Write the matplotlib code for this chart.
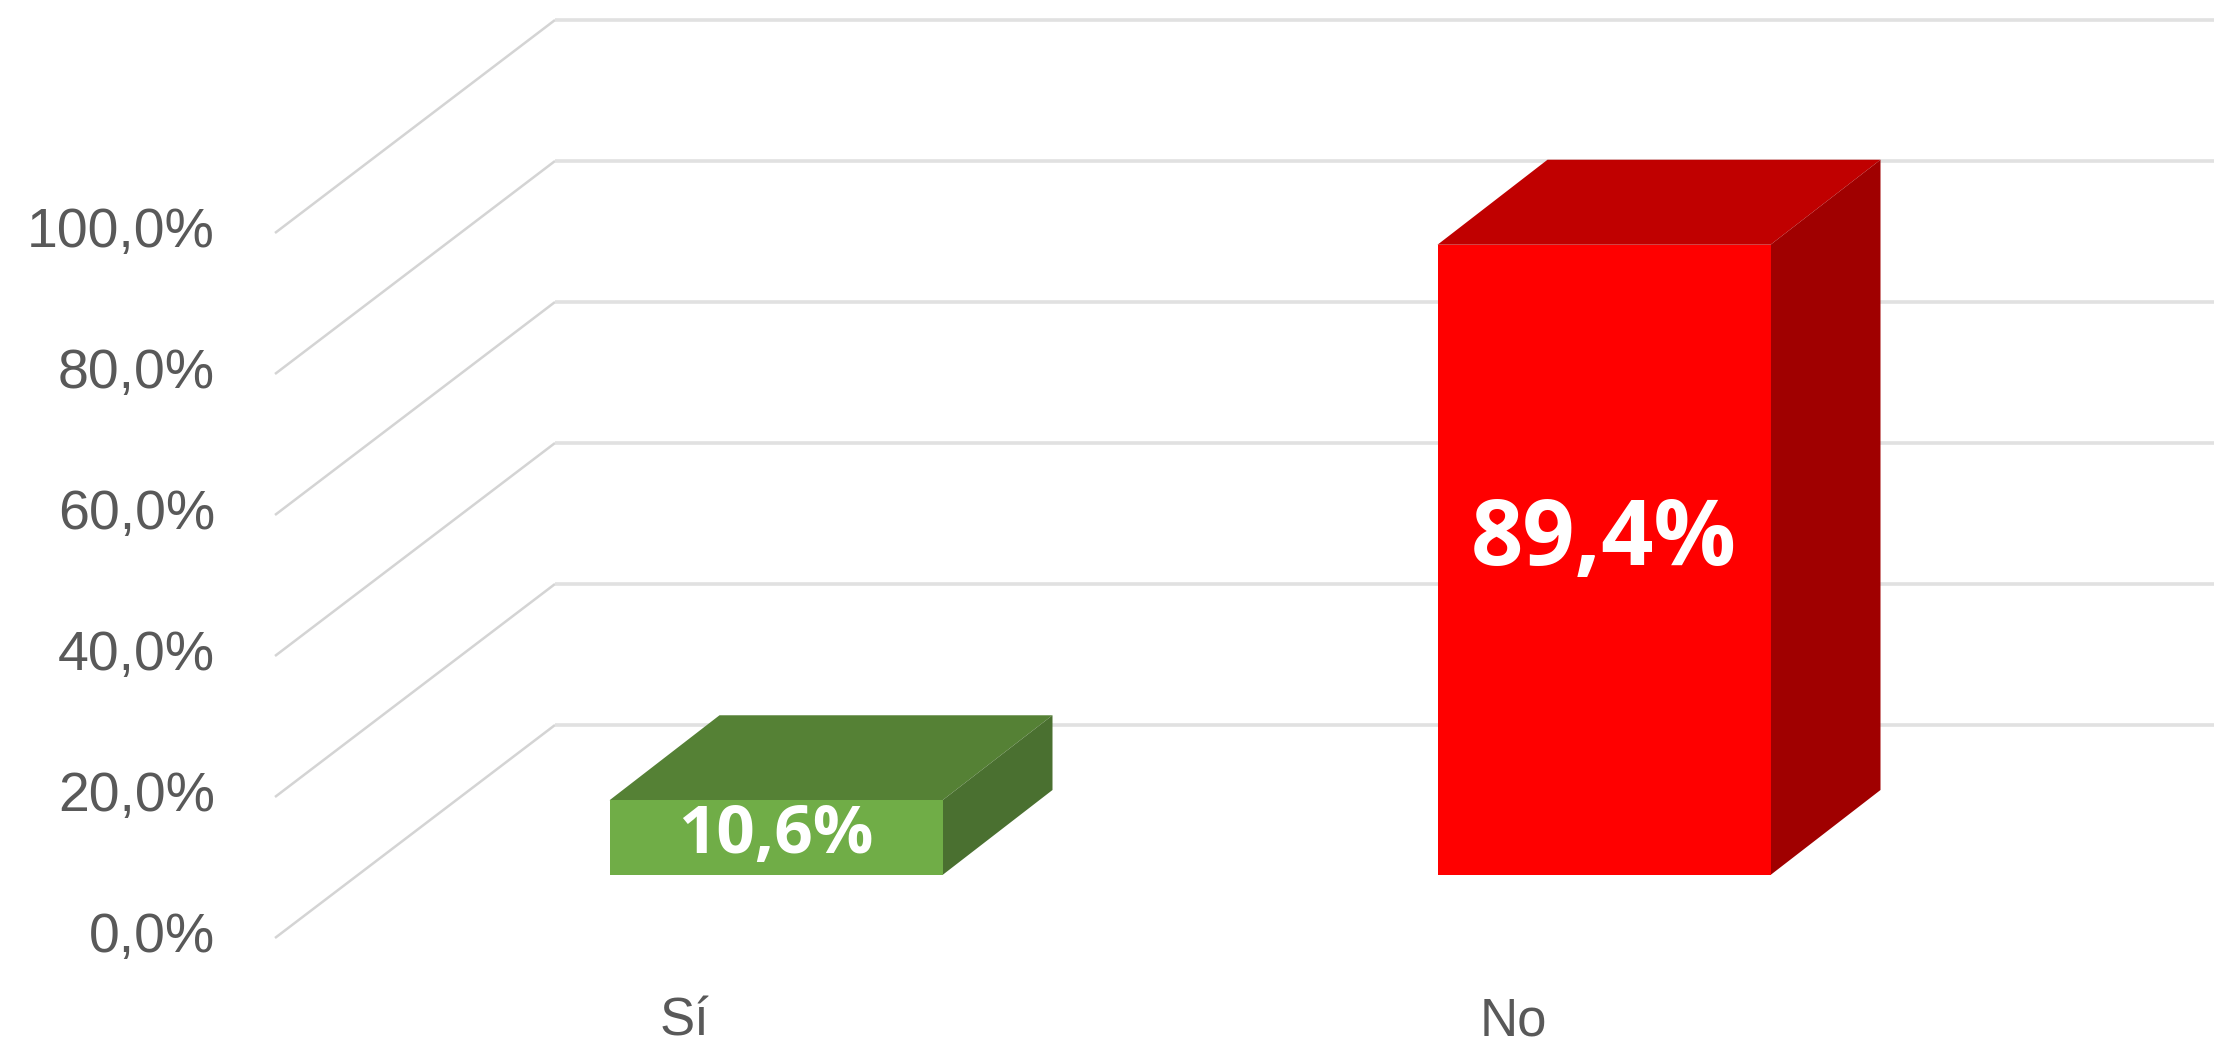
import matplotlib
matplotlib.use("Agg")
import matplotlib.pyplot as plt
from matplotlib.patches import Polygon

# ---- data ----
categories = ["Sí", "No"]
values = [10.6, 89.4]
value_labels = ["10,6%", "89,4%"]
tick_values = [0, 20, 40, 60, 80, 100]
tick_labels = ["0,0%", "20,0%", "40,0%", "60,0%", "80,0%", "100,0%"]

front_colors = ["#70AD47", "#FF0000"]
top_colors = ["#558135", "#C00000"]
side_colors = ["#4A7030", "#A00000"]
label_sizes = [48.5, 66]

axis_font = ["Liberation Sans", "DejaVu Sans"]
label_font = ["Open Sans", "DejaVu Sans"]

W, H = 2232, 1043
fig = plt.figure(figsize=(W / 100, H / 100), dpi=100)
ax = fig.add_axes([0, 0, 1, 1])
# x in category units (828 px per category), y in percent (7.05 px per %)
px_c, px_v = 828.0, 7.05
x0_pix, base_pix = 776.0, 875.0
ax.set_xlim(-x0_pix / px_c, (W - x0_pix) / px_c)
ax.set_ylim(-(H - base_pix) / px_v, base_pix / px_v)
ax.axis("off")

# ---- walls / gridlines ----
front_c, front_v0 = (275 - x0_pix) / px_c, (base_pix - 938) / px_v
back_c, back_v0 = (555 - x0_pix) / px_c, (base_pix - 725) / px_v
right_c = (2214 - x0_pix) / px_c
for t, lab in zip(tick_values, tick_labels):
    fv = front_v0 + t
    bv = back_v0 + t
    ax.plot([front_c, back_c], [fv, bv], color="#D4D4D4", lw=1.8, solid_capstyle="butt", zorder=1)
    ax.plot([back_c, right_c], [bv, bv], color="#E1E1E1", lw=2.6, solid_capstyle="butt", zorder=1)
    ax.text((215 - x0_pix) / px_c, fv, lab, ha="right", va="center", fontsize=40,
            color="#595959", family=axis_font)

# ---- 3D bars ----
bar_w = 333 / px_c
dx, dv = 110 / px_c, 85 / px_v
for i, (v, fc, tc, sc) in enumerate(zip(values, front_colors, top_colors, side_colors)):
    l, r = i - bar_w / 2, i + bar_w / 2
    ax.add_patch(Polygon([(l, v), (r, v), (r + dx, v + dv), (l + dx, v + dv)],
                         closed=True, facecolor=tc, edgecolor="none", zorder=3))
    ax.add_patch(Polygon([(r, 0), (r + dx, dv), (r + dx, v + dv), (r, v)],
                         closed=True, facecolor=sc, edgecolor="none", zorder=3))
    ax.add_patch(Polygon([(l, 0), (r, 0), (r, v), (l, v)],
                         closed=True, facecolor=fc, edgecolor="none", zorder=4))
    ax.text(i, 0.53 * v, value_labels[i], ha="center", va="center", color="white",
            fontsize=label_sizes[i], fontweight="bold", family=label_font, zorder=5)

# ---- category labels ----
for i, cat in enumerate(categories):
    ax.text(i - 0.11, (base_pix - 1022) / px_v, cat, ha="center", va="center",
            fontsize=38, color="#595959", family=axis_font)

fig.savefig("out.png", dpi=100, facecolor="white")
